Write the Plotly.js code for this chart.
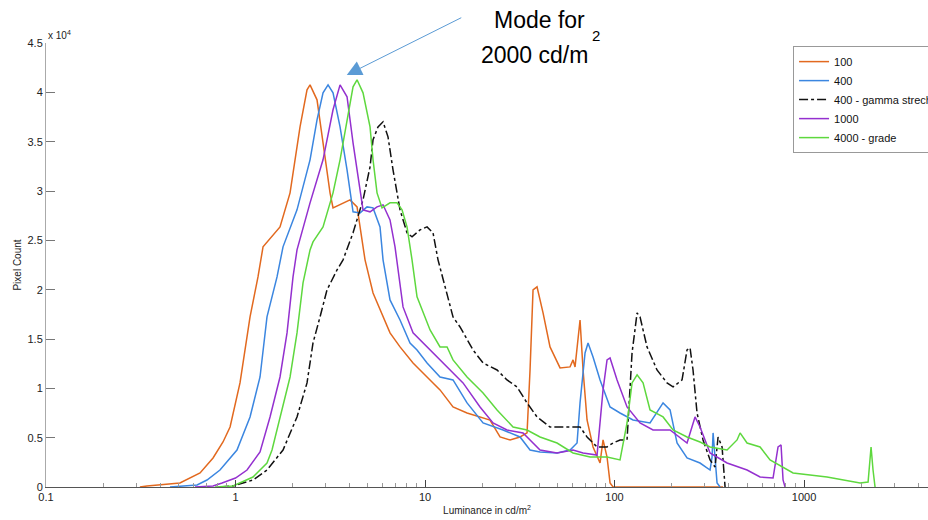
<!DOCTYPE html>
<html>
<head>
<meta charset="utf-8">
<script src="https://cdn.plot.ly/plotly-3.0.1.min.js"></script>
<style>html,body{margin:0;padding:0;background:#fff;}#chart{width:928px;height:520px;}</style>
</head>
<body>
<div id="chart"></div>
<script>
// ---- data (luminance in cd/m^2, pixel count) ----
const lum100 = [0.313,0.341,0.509,0.650,0.761,0.859,0.936,1.056,1.193,1.314,1.397,1.717,1.940,2.190,2.384,2.473,2.692,2.896,3.153,3.270,3.561,4.020,4.378,4.539,4.824,5.317,5.788,6.535,7.381,8.644,11.02,12.00,14.05,16.66,22.03,24.88,28.09,31.72,34.54,35.82,37.15,38.99,41.95,45.66,51.58,58.24,60.40,61.89,65.76,68.21,71.60,77.01,83.85,86.96,91.29,94.69,98.19,373.8];
const count100 = [0,100,410,1420,2940,4560,6080,10550,17240,21290,24340,26360,29810,36500,40260,40760,39240,34880,29810,28290,28600,29100,28390,26360,23020,19670,17950,15620,14200,12570,10550,9840,8110,7500,6790,5070,4770,5070,5480,11860,19980,20280,17640,14200,12070,12170,12880,12170,16930,11860,6790,4060,2430,4770,3040,410,0,0];

const lum400 = [0.451,0.627,0.707,0.828,1.018,1.193,1.347,1.466,1.656,1.781,2.111,2.473,2.692,2.896,3.078,3.270,3.561,3.877,4.170,4.539,4.943,5.317,5.788,6.004,6.535,7.381,8.333,9.074,10.25,12.00,14.05,16.66,20.24,25.80,31.72,35.82,40.45,49.74,58.24,63.41,65.76,69.88,72.48,77.01,83.85,94.69,106.9,125.2,153.9,173.9,180.3,196.3,213.7,241.3,282.5,319.2,327.0,331.1,339.2,347.5,360.4];
const count400 = [0,200,710,1720,3750,7100,11150,17240,21290,24340,28090,33160,37210,39950,40760,39950,36500,32140,27890,27780,28390,28290,26360,23020,18960,16930,14600,13890,12570,11150,10850,8520,6490,5780,5070,3750,3550,3450,3750,4460,8520,13590,14600,13180,10850,8110,7500,6790,6490,8110,8520,7810,4460,2940,2430,1720,3040,5480,3040,410,0];

const lumGamma = [0.828,0.970,1.237,1.466,1.781,2.111,2.384,2.564,2.792,3.040,3.433,3.693,4.170,4.708,5.127,5.317,5.649,6.004,6.378,6.778,7.381,8.035,8.539,9.410,10.25,11.02,11.71,13.07,14.05,15.30,17.92,20.24,23.99,27.08,30.59,34.54,38.99,45.66,56.15,65.76,71.60,80.85,91.29,98.19,106.9,116.4,123.7,131.5,136.3,148.4,167.5,189.2,203.6,227.1,241.3,250.3,259.5,272.5,293.1,319.2,339.2,351.8,369.3,383.0];
const countGamma = [0,100,710,1720,3750,7100,10550,14600,17240,19980,22000,23020,25760,29100,32450,35190,36500,37010,35490,32140,28090,25760,25350,26060,26360,25760,23020,19670,17240,16220,13890,12570,11860,10850,10140,8520,7100,6080,6080,6080,5070,4060,4060,4460,4770,4770,13590,17640,17240,14200,11860,10550,10140,10850,13890,14100,11860,7500,4770,2740,2030,5070,4060,0];

const lum1000 = [0.611,0.761,0.849,1.000,1.150,1.347,1.521,1.717,1.870,2.011,2.111,2.473,2.896,3.270,3.561,3.877,4.170,4.539,4.708,5.127,5.581,6.004,6.535,6.945,7.655,8.644,10.25,12.00,13.55,15.87,19.51,22.85,27.08,32.90,40.45,49.74,60.40,68.21,80.85,86.96,91.29,94.69,103.1,116.4,136.3,159.6,196.3,241.3,265.9,282.5,319.2,392.5,500.3,585.9,686.1,729.1,756.1,774.7,793.7];
const count1000 = [0,100,410,910,1720,3550,7100,11150,15620,21290,24030,28800,33160,38230,40760,39550,34880,30420,28090,27890,28390,28600,27070,24340,18250,15620,14200,12880,11860,10550,8110,6490,5780,5480,3750,3450,3750,3450,3240,9840,12880,13080,10850,8110,6490,5780,5780,4460,7100,6080,3450,2430,1720,1010,910,4060,4260,710,0];

const lum4000 = [0.779,0.970,1.237,1.466,1.558,1.717,1.940,2.111,2.271,2.473,2.564,2.896,3.270,3.561,3.877,4.170,4.378,4.708,5.127,5.317,5.581,5.931,6.535,7.116,7.562,8.035,8.539,9.074,10.63,12.00,13.07,14.05,16.66,20.24,23.99,29.14,34.54,40.45,49.74,60.40,74.26,91.29,106.9,116.4,123.7,131.5,141.4,153.9,180.3,203.6,241.3,282.5,319.2,392.5,443.1,459.6,500.3,585.9,661.6,874.9,1322,1975,2177,2257,2312,2369];
const count4000 = [0,100,1010,2430,3750,7100,11150,15620,20690,24030,24840,26360,29810,33160,37210,40560,41270,39950,36500,33160,29810,28290,28800,28800,28090,26360,23020,19270,15920,14200,14200,12880,11150,9530,7810,6080,5780,5070,4460,3450,3040,3040,2740,6490,10550,11360,10550,7810,7100,5780,5070,4560,4060,3750,4770,5480,4460,4060,2740,1420,1010,410,510,4060,1720,0];

const seriesNames = ['100','400','400 - gamma strech','1000','4000 - grade'];
const xTickVals = [0.1,1,10,100,1000];
const xTickText = ['0.1','1','10','100','1000'];
const yTickVals = [0,5000,10000,15000,20000,25000,30000,35000,40000,45000];
const yTickText = ['0','0.5','1','1.5','2','2.5','3','3.5','4','4.5'];
const xMinorVals = [];
[0.1,1,10,100,1000].forEach(d => { for (let k = 2; k <= 9; k++) xMinorVals.push(d * k); });

const colors = ['#E2691F','#3B86E0','#111111','#9430CF','#5ED83E'];
const fontFam = 'Liberation Sans, Arial, Helvetica, sans-serif';

const mk = (x, y, i, dash) => ({
  x: x, y: y, name: seriesNames[i], type: 'scatter', mode: 'lines',
  line: {color: colors[i], width: 1.5, dash: dash || 'solid'},
  hoverinfo: 'skip'
});

const traces = [
  mk(lum100, count100, 0),
  mk(lum400, count400, 1),
  mk(lumGamma, countGamma, 2, 'dashdot'),
  mk(lum1000, count1000, 3),
  mk(lum4000, count4000, 4)
];

const layout = {
  width: 928, height: 520,
  margin: {l: 46, r: 0, t: 43, b: 33, autoexpand: false},
  paper_bgcolor: '#ffffff', plot_bgcolor: '#ffffff',
  font: {family: fontFam, color: '#222'},
  showlegend: true,
  xaxis: {
    type: 'log', range: [-1, 3.654],
    tickmode: 'array', tickvals: xTickVals, ticktext: xTickText,
    ticks: 'inside', ticklen: 7, tickcolor: '#444', tickwidth: 1,
    minor: {ticks: 'inside', ticklen: 4, tickvals: xMinorVals, tickcolor: '#999', tickwidth: 1},
    showline: true, linecolor: '#555', linewidth: 1,
    showgrid: false, zeroline: false,
    tickfont: {family: fontFam, size: 11, color: '#222'},
    title: {text: 'Luminance in cd/m<sup>2</sup>', font: {family: fontFam, size: 10, color: '#222'}, standoff: 4}
  },
  yaxis: {
    range: [0, 45000],
    tickmode: 'array', tickvals: yTickVals, ticktext: yTickText,
    ticks: 'inside', ticklen: 9, tickcolor: '#777', tickwidth: 1,
    showline: true, linecolor: '#aaa', linewidth: 1,
    showgrid: false, zeroline: false,
    tickfont: {family: fontFam, size: 11, color: '#222'},
    title: {text: 'Pixel Count', font: {family: fontFam, size: 10, color: '#222'}, standoff: 4}
  },
  legend: {
    x: 0.847, y: 0.993, xanchor: 'left', yanchor: 'top',
    bgcolor: '#ffffff', bordercolor: '#999', borderwidth: 1,
    font: {family: fontFam, size: 11, color: '#111'},
    traceorder: 'normal', tracegroupgap: 0
  },
  annotations: [
    {xref: 'paper', yref: 'paper', x: 0, y: 1.018, xanchor: 'left', yanchor: 'middle',
     text: 'x 10<sup>4</sup>', showarrow: false, font: {family: fontFam, size: 10, color: '#222'}},
    {xref: 'paper', yref: 'paper', x: 0.560, y: 1.052, xanchor: 'center', yanchor: 'middle',
     text: 'Mode for', showarrow: false, font: {family: fontFam, size: 23, color: '#000'}},
    {xref: 'paper', yref: 'paper', x: 0.554, y: 0.973, xanchor: 'center', yanchor: 'middle',
     text: '2000 cd/m', showarrow: false, font: {family: fontFam, size: 23, color: '#000'}},
    {xref: 'paper', yref: 'paper', x: 0.624, y: 1.016, xanchor: 'center', yanchor: 'middle',
     text: '2', showarrow: false, font: {family: fontFam, size: 15, color: '#000'}},
    {xref: 'paper', yref: 'paper', x: 0.341, y: 0.928, text: '', showarrow: true,
     ax: 116, ay: -58, arrowhead: 2, arrowsize: 3, arrowwidth: 1, arrowcolor: '#5B9BD5', standoff: 0}
  ]
};

Plotly.newPlot('chart', traces, layout, {displayModeBar: false, staticPlot: true});
</script>
</body>
</html>
